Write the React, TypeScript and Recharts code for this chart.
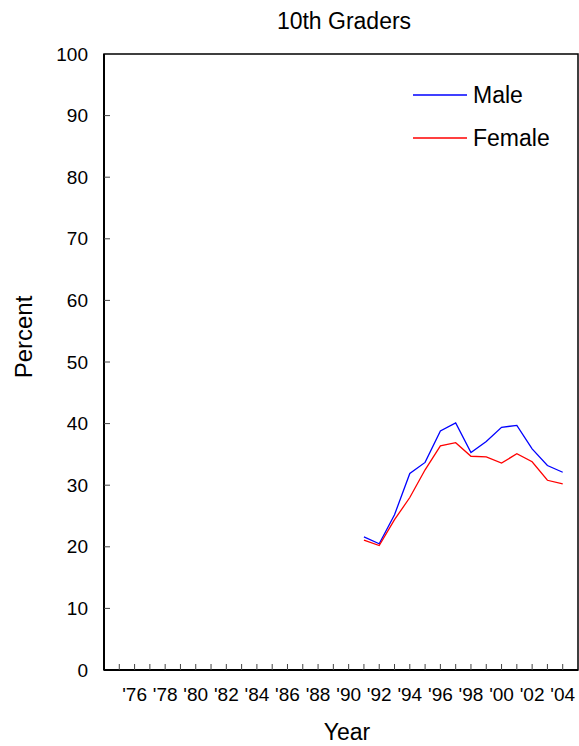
import { LineChart, Line, XAxis, YAxis, ReferenceArea } from 'recharts';

// Survey years plotted (10th graders, percent)
const years = [1991, 1992, 1993, 1994, 1995, 1996, 1997, 1998, 1999, 2000, 2001, 2002, 2003, 2004];
const maleValues = [21.6, 20.5, 25.2, 31.9, 33.7, 38.8, 40.1, 35.3, 37.1, 39.4, 39.7, 35.9, 33.2, 32.1];
const femaleValues = [21.1, 20.2, 24.4, 28.0, 32.5, 36.4, 36.9, 34.7, 34.6, 33.6, 35.1, 33.8, 30.8, 30.2];

const xTicks = [
  1975, 1976, 1977, 1978, 1979, 1980, 1981, 1982, 1983, 1984, 1985, 1986, 1987, 1988, 1989,
  1990, 1991, 1992, 1993, 1994, 1995, 1996, 1997, 1998, 1999, 2000, 2001, 2002, 2003, 2004,
];
const yTicks = [0, 10, 20, 30, 40, 50, 60, 70, 80, 90, 100];

const seriesInfo = [
  { key: 'male', label: 'Male', color: '#0000ff' },
  { key: 'female', label: 'Female', color: '#ff0000' },
];

const FONT = '"Liberation Sans", Arial, sans-serif';

const data = years.map((year, i) => ({ year, male: maleValues[i], female: femaleValues[i] }));

function XTick({ x, y, payload }: any) {
  const yr = payload.value as number;
  const showLabel = yr % 2 === 0;
  return (
    <g>
      <line x1={x} x2={x} y1={y - 6} y2={y} stroke="#444" strokeWidth={1} />
      {showLabel && (
        <text x={x} y={y + 31} textAnchor="middle" fontSize={19} fontFamily={FONT} fill="#000">
          {`'${String(yr).slice(2)}`}
        </text>
      )}
    </g>
  );
}

function YTick({ x, y, payload }: any) {
  return (
    <g>
      {payload.value !== 0 && payload.value !== 100 && (
        <line x1={x} x2={x + 6} y1={y} y2={y} stroke="#444" strokeWidth={1} />
      )}
      <text x={x - 16} y={y} textAnchor="end" dominantBaseline="central" fontSize={19} fontFamily={FONT} fill="#000">
        {payload.value}
      </text>
    </g>
  );
}

export default function App() {
  return (
    <div style={{ position: 'absolute', left: 0, top: 0, width: 579, height: 746, background: '#fff', fontFamily: FONT }}>
      <LineChart width={579} height={746} data={data} margin={{ top: 54, right: 1, bottom: 36, left: 44 }}>
        <ReferenceArea x1={1974} x2={2005} y1={0} y2={100} stroke="#000" strokeWidth={1.5} fill="none" fillOpacity={0} ifOverflow="extendDomain" />
        <XAxis
          dataKey="year"
          type="number"
          domain={[1974, 2005]}
          ticks={xTicks}
          interval={0}
          height={40}
          tickSize={0}
          tickMargin={0}
          tickLine={false}
          axisLine={{ stroke: '#000', strokeWidth: 2 }}
          tick={<XTick />}
        />
        <YAxis
          type="number"
          domain={[0, 100]}
          ticks={yTicks}
          interval={0}
          width={60}
          tickSize={0}
          tickMargin={0}
          tickLine={false}
          axisLine={{ stroke: '#000', strokeWidth: 2 }}
          tick={<YTick />}
        />
        {seriesInfo.map((s) => (
          <Line
            key={s.key}
            type="linear"
            dataKey={s.key}
            stroke={s.color}
            strokeWidth={1.3}
            dot={false}
            activeDot={false}
            isAnimationActive={false}
          />
        ))}
      </LineChart>

      <div style={{ position: 'absolute', left: 0, width: 688, top: 8, textAlign: 'center', fontSize: 23, lineHeight: '26px' }}>
        10th Graders
      </div>
      <div
        style={{
          position: 'absolute',
          left: 24,
          top: 337,
          fontSize: 24,
          lineHeight: '26px',
          transform: 'translate(-50%, -50%) rotate(-90deg)',
          whiteSpace: 'nowrap',
        }}
      >
        Percent
      </div>
      <div style={{ position: 'absolute', left: 0, width: 694, top: 719, textAlign: 'center', fontSize: 23, lineHeight: '26px' }}>
        Year
      </div>

      <svg style={{ position: 'absolute', left: 400, top: 75, overflow: 'visible' }} width={179} height={90}>
        {seriesInfo.map((s, i) => (
          <g key={s.key}>
            <line x1={13} x2={67} y1={20 + i * 43} y2={20 + i * 43} stroke={s.color} strokeWidth={1.3} />
            <text x={73} y={28 + i * 43} fontSize={23} fontFamily={FONT} fill="#000">
              {s.label}
            </text>
          </g>
        ))}
      </svg>
    </div>
  );
}
